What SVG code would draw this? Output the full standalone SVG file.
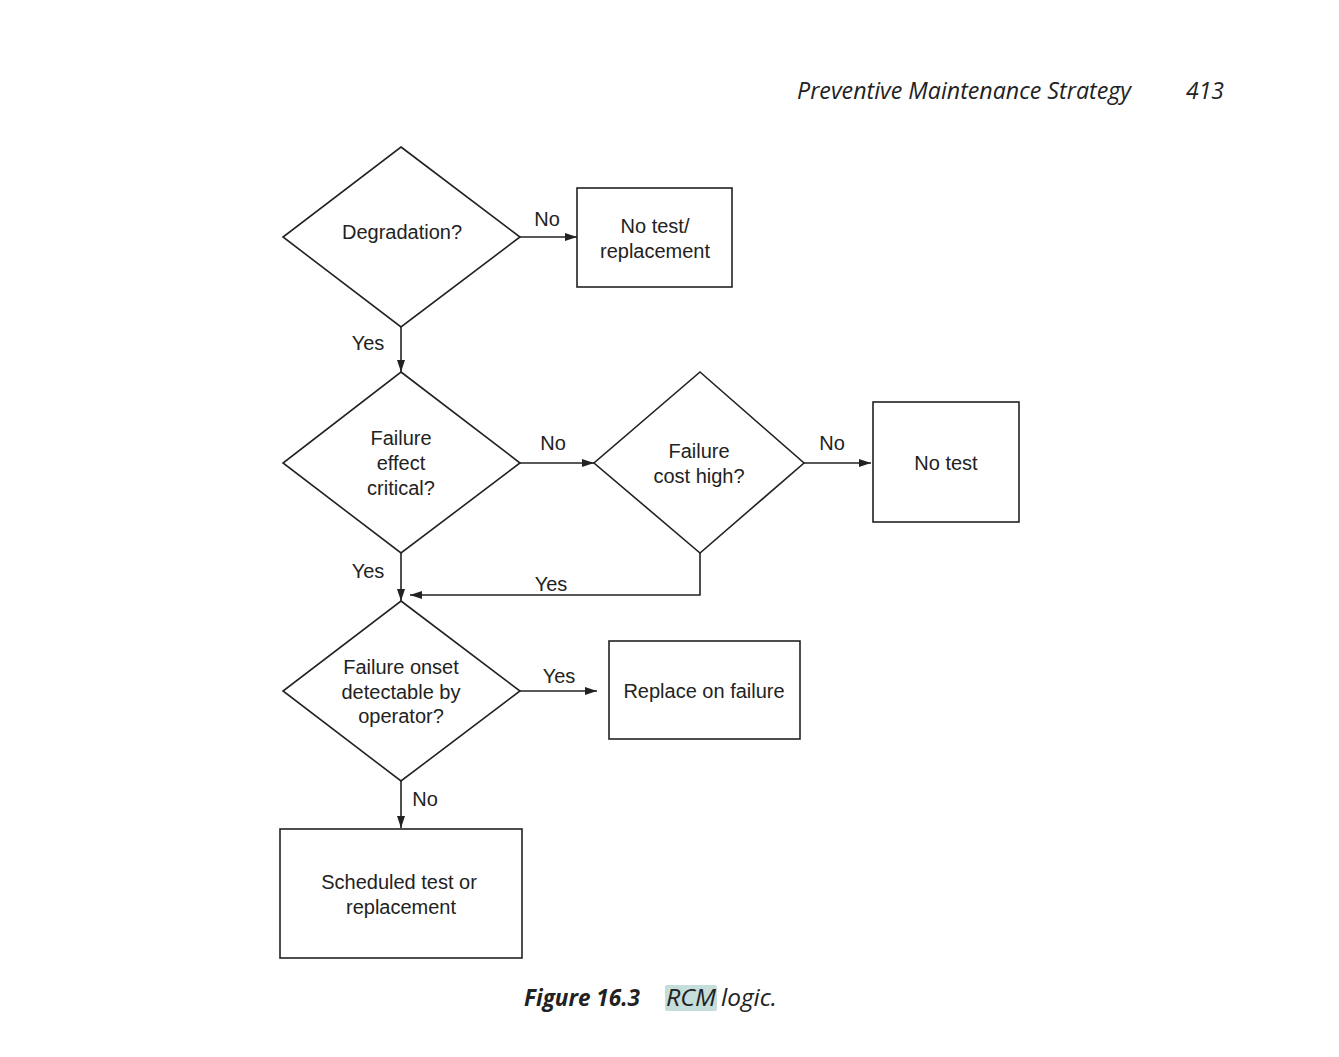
<svg xmlns="http://www.w3.org/2000/svg" width="1339" height="1057" viewBox="0 0 1339 1057">
<defs>
<style>
.s{fill:none;stroke:#222;stroke-width:1.6}
.n{fill:#fff;stroke:#222;stroke-width:1.6}
.t{font-family:"Liberation Sans",Arial,sans-serif;font-size:20px;fill:#222;text-anchor:middle}
.h{font-family:"Open Sans","Liberation Sans",sans-serif;font-style:italic;font-size:23px;fill:#222}
</style>
<marker id="ah" viewBox="0 0 12 8" refX="12" refY="4" markerWidth="12" markerHeight="8" markerUnits="userSpaceOnUse" orient="auto">
<path d="M0,0 L12,4 L0,8 Z" fill="#222"/>
</marker>
</defs>
<rect width="1339" height="1057" fill="#fff"/>
<text class="h" x="797" y="99" textLength="334" lengthAdjust="spacingAndGlyphs">Preventive Maintenance Strategy</text>
<text class="h" x="1186" y="99" textLength="38" lengthAdjust="spacingAndGlyphs">413</text>

<g id="connectors">
<line class="s" x1="520" y1="237" x2="577" y2="237" marker-end="url(#ah)"/>
<line class="s" x1="401" y1="327" x2="401" y2="372" marker-end="url(#ah)"/>
<line class="s" x1="520" y1="463" x2="594" y2="463" marker-end="url(#ah)"/>
<line class="s" x1="804" y1="463" x2="871" y2="463" marker-end="url(#ah)"/>
<line class="s" x1="401" y1="553" x2="401" y2="601" marker-end="url(#ah)"/>
<polyline class="s" points="700,553 700,595 410,595" marker-end="url(#ah)"/>
<line class="s" x1="520" y1="691" x2="597" y2="691" marker-end="url(#ah)"/>
<line class="s" x1="401" y1="781" x2="401" y2="828" marker-end="url(#ah)"/>
<text class="t" x="547" y="226">No</text>
<text class="t" x="368" y="350">Yes</text>
<text class="t" x="553" y="450">No</text>
<text class="t" x="832" y="450">No</text>
<text class="t" x="368" y="578">Yes</text>
<text class="t" x="551" y="591">Yes</text>
<text class="t" x="559" y="683">Yes</text>
<text class="t" x="425" y="806">No</text>
</g>

<g id="degradation">
<polygon class="n" points="401,147 520,237 401,327 283,237"/>
<text class="t" x="402" y="239">Degradation?</text>
</g>
<g id="no-test-replacement">
<rect class="n" x="577" y="188" width="155" height="99"/>
<text class="t" x="655" y="233">No test/</text>
<text class="t" x="655" y="258">replacement</text>
</g>
<g id="failure-effect-critical">
<polygon class="n" points="401,372 520,463 401,553 283,463"/>
<text class="t" x="401" y="445">Failure</text>
<text class="t" x="401" y="470">effect</text>
<text class="t" x="401" y="495">critical?</text>
</g>
<g id="failure-cost-high">
<polygon class="n" points="700,372 804,463 700,553 594,463"/>
<text class="t" x="699" y="458">Failure</text>
<text class="t" x="699" y="483">cost high?</text>
</g>
<g id="no-test">
<rect class="n" x="873" y="402" width="146" height="120"/>
<text class="t" x="946" y="470">No test</text>
</g>
<g id="failure-onset">
<polygon class="n" points="401,601 520,691 401,781 283,691"/>
<text class="t" x="401" y="674">Failure onset</text>
<text class="t" x="401" y="699">detectable by</text>
<text class="t" x="401" y="723">operator?</text>
</g>
<g id="replace-on-failure">
<rect class="n" x="609" y="641" width="191" height="98"/>
<text class="t" x="704" y="698">Replace on failure</text>
</g>
<g id="scheduled-test">
<rect class="n" x="280" y="829" width="242" height="129"/>
<text class="t" x="399" y="889">Scheduled test or</text>
<text class="t" x="401" y="914">replacement</text>
</g>

<rect x="665" y="985" width="52" height="26" rx="2" fill="#c5dedb"/>
<text class="h" x="524" y="1006" font-weight="bold" textLength="116" lengthAdjust="spacingAndGlyphs">Figure 16.3</text>
<text class="h" x="666" y="1006" textLength="50" lengthAdjust="spacingAndGlyphs">RCM</text>
<text class="h" x="721" y="1006" textLength="56" lengthAdjust="spacingAndGlyphs">logic.</text>
</svg>
